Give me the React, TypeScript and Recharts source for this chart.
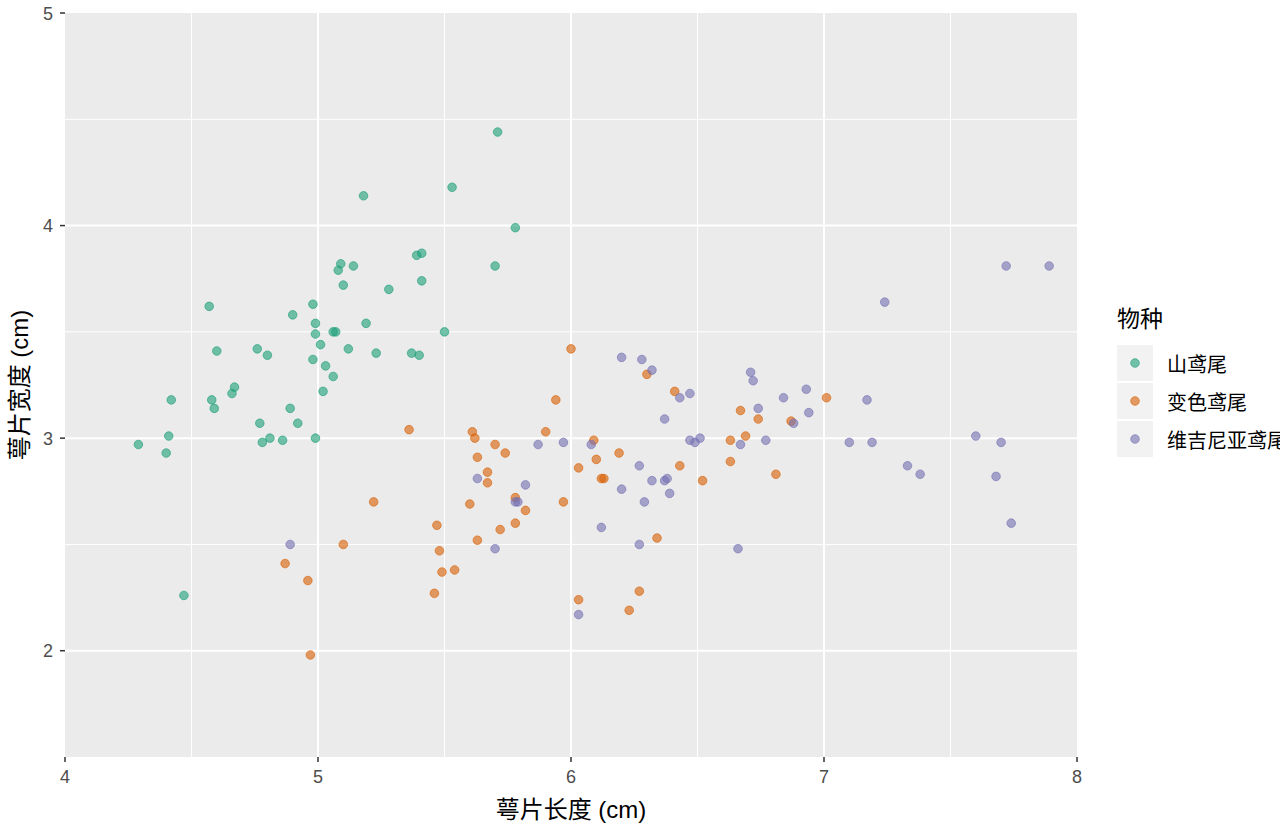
import React from 'react';
import {
  ScatterChart,
  Scatter,
  XAxis,
  YAxis,
  CartesianGrid,
  ReferenceLine,
} from 'recharts';

// 鸢尾花数据（萼片长度 / 萼片宽度，带抖动）
const species = ['山鸢尾', '变色鸢尾', '维吉尼亚鸢尾'];
const COLORS = ['#1B9E77', '#D95F02', '#7570B3'];

const setosaLength = [
  5.18, 5.39, 5.41, 5.09, 5.14, 5.08, 5.1, 5.41, 5.28, 4.57,
  4.9, 4.98, 4.99, 4.99, 5.06, 5.07, 5.19, 5.01, 4.6, 4.76,
  4.8, 5.12, 5.23, 5.37, 5.4, 4.98, 5.03, 5.06, 4.67, 4.66,
  5.02, 4.42, 4.58, 4.59, 4.89, 4.77, 4.92, 4.41, 4.29, 4.4,
  4.78, 4.81, 4.86, 4.99, 5.71, 5.53, 5.78, 5.7, 5.5, 4.47,
];
const setosaWidth = [
  4.14, 3.86, 3.87, 3.82, 3.81, 3.79, 3.72, 3.74, 3.7, 3.62,
  3.58, 3.63, 3.54, 3.49, 3.5, 3.5, 3.54, 3.44, 3.41, 3.42,
  3.39, 3.42, 3.4, 3.4, 3.39, 3.37, 3.34, 3.29, 3.24, 3.21,
  3.22, 3.18, 3.18, 3.14, 3.14, 3.07, 3.07, 3.01, 2.97, 2.93,
  2.98, 3.0, 2.99, 3.0, 4.44, 4.18, 3.99, 3.81, 3.5, 2.26,
];

const versicolorLength = [
  5.36, 5.22, 5.47, 5.48, 5.49, 5.54, 5.46, 5.1, 4.87, 4.96,
  4.97, 6.0, 6.3, 5.94, 6.41, 6.67, 5.61, 5.62, 5.7, 5.9,
  6.09, 6.63, 5.74, 5.63, 5.67, 5.67, 5.6, 5.78, 5.82, 5.97,
  5.78, 5.72, 5.63, 6.03, 6.1, 6.19, 6.12, 6.13, 6.43, 6.52,
  6.63, 6.34, 6.03, 6.27, 6.23, 7.01, 6.74, 6.87, 6.69, 6.81,
];
const versicolorWidth = [
  3.04, 2.7, 2.59, 2.47, 2.37, 2.38, 2.27, 2.5, 2.41, 2.33,
  1.98, 3.42, 3.3, 3.18, 3.22, 3.13, 3.03, 3.0, 2.97, 3.03,
  2.99, 2.99, 2.93, 2.91, 2.84, 2.79, 2.69, 2.72, 2.66, 2.7,
  2.6, 2.57, 2.52, 2.86, 2.9, 2.93, 2.81, 2.81, 2.87, 2.8,
  2.89, 2.53, 2.24, 2.28, 2.19, 3.19, 3.09, 3.08, 3.01, 2.83,
];

const virginicaLength = [
  4.89, 6.2, 6.28, 6.32, 6.43, 6.47, 6.37, 5.87, 5.97, 6.08,
  6.47, 6.49, 6.51, 6.67, 5.63, 5.82, 5.78, 5.79, 5.7, 6.27,
  6.32, 6.37, 6.38, 6.2, 6.39, 6.29, 6.12, 6.27, 6.66, 6.03,
  7.72, 7.89, 7.24, 6.71, 6.72, 6.93, 6.84, 7.17, 6.74, 6.94,
  6.88, 6.77, 7.1, 7.19, 7.33, 7.38, 7.6, 7.7, 7.68, 7.74,
];
const virginicaWidth = [
  2.5, 3.38, 3.37, 3.32, 3.19, 3.21, 3.09, 2.97, 2.98, 2.97,
  2.99, 2.98, 3.0, 2.97, 2.81, 2.78, 2.7, 2.7, 2.48, 2.87,
  2.8, 2.8, 2.81, 2.76, 2.74, 2.7, 2.58, 2.5, 2.48, 2.17,
  3.81, 3.81, 3.64, 3.31, 3.27, 3.23, 3.19, 3.18, 3.14, 3.12,
  3.07, 2.99, 2.98, 2.98, 2.87, 2.83, 3.01, 2.98, 2.82, 2.6,
];

const xTicks = [4, 5, 6, 7, 8];
const yTicks = [2, 3, 4, 5];
const xMajor = [5, 6, 7];
const xMinor = [4.5, 5.5, 6.5, 7.5];
const yMajor = [2, 3, 4];
const yMinor = [2.5, 3.5, 4.5];

const toPoints = (xs: number[], ys: number[]) => xs.map((x, i) => ({ x, y: ys[i] }));

const seriesData = [
  toPoints(setosaLength, setosaWidth),
  toPoints(versicolorLength, versicolorWidth),
  toPoints(virginicaLength, virginicaWidth),
];

const FONT = '"Liberation Sans", "Noto Sans CJK SC", sans-serif';
const TICK_FONT = 18;

const makeDot = (color: string) => (props: any) => (
  <circle
    cx={props.cx}
    cy={props.cy}
    r={4.3}
    fill={color}
    fillOpacity={0.6}
    stroke={color}
    strokeOpacity={0.6}
    strokeWidth={1}
  />
);

// 刻度文字自己画，字号才能对上
const XTick = (props: any) => (
  <text x={props.x} y={props.y} dy={17} textAnchor="middle" fill="#4D4D4D" fontSize={TICK_FONT} style={{ fontSize: TICK_FONT, fontFamily: FONT }}>
    {props.payload.value}
  </text>
);
const YTick = (props: any) => (
  <text x={props.x} y={props.y} dy={6.5} textAnchor="end" fill="#4D4D4D" fontSize={TICK_FONT} style={{ fontSize: TICK_FONT, fontFamily: FONT }}>
    {props.payload.value}
  </text>
);

const SpeciesLegend = () => (
  <div style={{ position: 'absolute', left: 1117, top: 304, fontFamily: FONT, whiteSpace: 'nowrap' }}>
    <div style={{ fontSize: 23, lineHeight: '30px', color: '#000', marginBottom: 10 }}>物种</div>
    {species.map((name, i) => (
      <div key={name} style={{ display: 'flex', alignItems: 'center', height: 38 }}>
        <div
          style={{
            width: 36,
            height: 36,
            background: '#F2F2F2',
            display: 'flex',
            alignItems: 'center',
            justifyContent: 'center',
          }}
        >
          <svg width={12} height={12}>
            <circle cx={6} cy={6} r={4.3} fill={COLORS[i]} fillOpacity={0.6} stroke={COLORS[i]} strokeOpacity={0.6} />
          </svg>
        </div>
        <span style={{ marginLeft: 14, fontSize: 20, color: '#000' }}>{name}</span>
      </div>
    ))}
  </div>
);

export default function App() {
  return (
    <div style={{ position: 'relative', width: 1280, height: 832, overflow: 'hidden', background: '#fff' }}>
      <style>{'body{margin:0}'}</style>
      <ScatterChart
        width={1280}
        height={832}
        margin={{ top: 13, right: 203, bottom: 0, left: 0 }}
        style={{ fontFamily: FONT }}
      >
        <CartesianGrid fill="#EBEBEB" horizontal={false} vertical={false} />
        <XAxis
          type="number"
          dataKey="x"
          domain={[4, 8]}
          ticks={xTicks}
          allowDataOverflow
          height={75}
          axisLine={false}
          tickSize={5}
          tickMargin={4}
          tickLine={{ stroke: '#333333', strokeWidth: 1.5 }}
          tick={XTick}
          label={{ value: '萼片长度 (cm)', position: 'insideBottom', offset: 14, fill: '#000', fontSize: 24 }}
        />
        <YAxis
          type="number"
          dataKey="y"
          domain={[1.5, 5]}
          ticks={yTicks}
          allowDataOverflow
          width={65}
          axisLine={false}
          tickSize={5}
          tickMargin={7}
          tickLine={{ stroke: '#333333', strokeWidth: 1.5 }}
          tick={YTick}
          label={{
            value: '萼片宽度 (cm)',
            angle: -90,
            position: 'insideLeft',
            offset: 19,
            fill: '#000',
            fontSize: 24,
            style: { textAnchor: 'middle' },
          }}
        />
        {xMinor.map((v) => (
          <ReferenceLine key={`xm${v}`} x={v} stroke="#ffffff" strokeWidth={1} />
        ))}
        {yMinor.map((v) => (
          <ReferenceLine key={`ym${v}`} y={v} stroke="#ffffff" strokeWidth={1} />
        ))}
        {xMajor.map((v) => (
          <ReferenceLine key={`xM${v}`} x={v} stroke="#ffffff" strokeWidth={2} />
        ))}
        {yMajor.map((v) => (
          <ReferenceLine key={`yM${v}`} y={v} stroke="#ffffff" strokeWidth={2} />
        ))}
        {seriesData.map((data, i) => (
          <Scatter
            key={species[i]}
            name={species[i]}
            data={data}
            shape={makeDot(COLORS[i])}
            isAnimationActive={false}
          />
        ))}
      </ScatterChart>
      <SpeciesLegend />
    </div>
  );
}
